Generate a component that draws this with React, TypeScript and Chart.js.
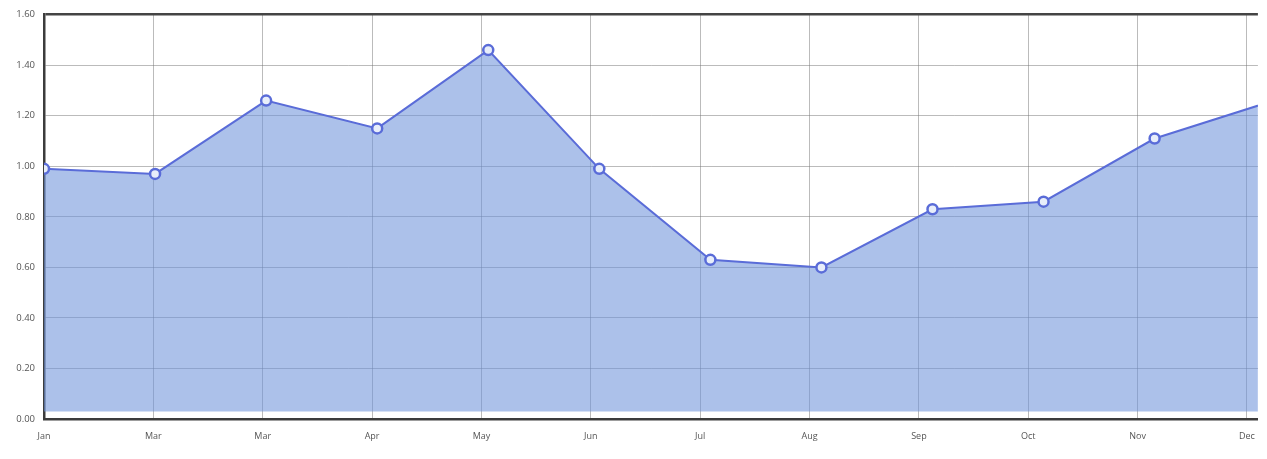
import React, { useEffect, useRef } from "react";
import { Chart, registerables } from "chart.js";

Chart.register(...registerables);

const monthLabels = ["Jan", "Mar", "Mar", "Apr", "May", "Jun", "Jul", "Aug", "Sep", "Oct", "Nov", "Dec"];
const seriesValues = [0.99, 0.97, 1.26, 1.15, 1.46, 0.99, 0.63, 0.6, 0.83, 0.86, 1.11, 1.25];
const yMin = 0;
const yMax = 1.6;
const yStep = 0.2;

export default function App() {
  const ref = useRef<HTMLCanvasElement | null>(null);

  useEffect(() => {
    document.body.style.margin = "0";
    const canvas = ref.current;
    if (!canvas) return;
    const points = seriesValues.map((v, i) => ({ x: i, y: v }));
    const chart = new Chart(canvas, {
      type: "line",
      data: {
        datasets: [
          {
            data: points,
            xAxisID: "xd",
            yAxisID: "y",
            borderColor: "#5a6cd8",
            borderWidth: 2,
            backgroundColor: "rgba(112,148,218,0.58)",
            fill: { value: 0.03 },
            pointRadius: 5,
            pointBorderWidth: 2.5,
            pointBorderColor: "#5a6cd8",
            pointBackgroundColor: "rgba(232,238,250,1)",
            tension: 0,
          },
        ],
      },
      options: {
        animation: false,
        responsive: false,
        maintainAspectRatio: false,
        layout: { padding: { top: 14, right: 0, left: 0, bottom: 0 } },
        plugins: { legend: { display: false }, tooltip: { enabled: false } },
        scales: {
          xd: {
            type: "linear",
            position: "bottom",
            display: false,
            min: 0,
            max: 10.93,
          },
          x: {
            type: "linear",
            position: "bottom",
            min: 0,
            max: 11.1,
            afterBuildTicks: (scale: any) => {
              scale.ticks = monthLabels.map((_, i) => ({ value: i }));
            },
            afterFit: (scale: any) => {
              scale.height = 40;
            },
            ticks: {
              autoSkip: false,
              maxRotation: 0,
              padding: 12,
              color: "#555",
              font: { family: "Open Sans", size: 9 },
              callback: (v: any) => (Number.isInteger(v) ? monthLabels[v] ?? "" : ""),
            },
            grid: {
              color: "rgba(120,120,120,0.5)",
              lineWidth: 1,
              drawTicks: false,
            },
            border: { color: "#3c3c3c", width: 2.5 },
          },
          y: {
            min: yMin,
            max: yMax,
            afterFit: (scale: any) => {
              scale.width = 44;
            },
            ticks: {
              stepSize: yStep,
              padding: 9,
              color: "#555",
              font: { family: "Open Sans", size: 9.5 },
              callback: (v: any) => Number(v).toFixed(2),
            },
            grid: {
              drawTicks: false,
              color: (ctx: any) => (Math.abs(ctx.tick?.value - yMax) < 1e-6 ? "#444" : "rgba(120,120,120,0.5)"),
              lineWidth: (ctx: any) => (Math.abs(ctx.tick?.value - yMax) < 1e-6 ? 2.5 : 1),
            },
            border: { color: "#3c3c3c", width: 2.5 },
          },
        },
      },
    });
    return () => chart.destroy();
  }, []);

  return (
    <div style={{ width: 1267, height: 459, overflow: "hidden", background: "#fff" }}>
      <canvas ref={ref} width={1267} height={459} style={{ display: "block" }} />
    </div>
  );
}
